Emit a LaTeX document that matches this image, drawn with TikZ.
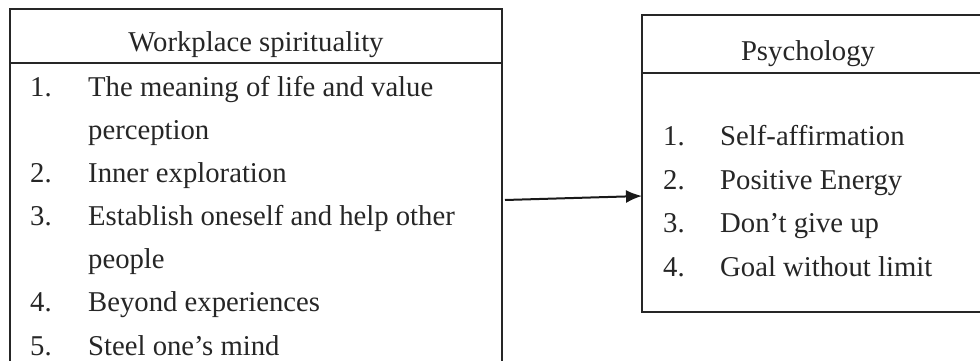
\documentclass[tikz,border=0pt]{standalone}
\usepackage{fontspec}
\setmainfont{Liberation Serif}
\usetikzlibrary{arrows.meta}
\tikzset{panel/.style={draw=black!85, line width=2pt, rectangle, inner sep=0pt, outer sep=0pt, anchor=north west}}
\tikzset{entry/.style={anchor=base west, inner sep=0pt, text=black!85}}
\tikzset{head/.style={anchor=base, inner sep=0pt, text=black!85}}

\begin{document}
\begin{tikzpicture}[x=1pt, y=-1pt, font=\fontsize{28.7}{34}\selectfont]
    \useasboundingbox (0,0) rectangle (980,361);
    \clip (0,0) rectangle (980,361);
    \fill[white] (0,0) rectangle (980,361);

    % left box, runs past the bottom edge
    \node[panel, minimum width=492pt, minimum height=420pt] (spirit) at (10,9) {};
    \draw[draw=black!85, line width=2pt] (10,63) -- (502,63);
    \node[head] (spirithead) at (256,52) {Workplace spirituality};

    \node[entry] (sn1) at (30,96) {1.};
    \node[entry] (st1) at (88,96) {The meaning of life and value};
    \node[entry] (st1b) at (88,139.2) {perception};
    \node[entry] (sn2) at (30,182.3) {2.};
    \node[entry] (st2) at (88,182.3) {Inner exploration};
    \node[entry] (sn3) at (30,225.5) {3.};
    \node[entry] (st3) at (88,225.5) {Establish oneself and help other};
    \node[entry] (st3b) at (88,268.7) {people};
    \node[entry] (sn4) at (30,311.8) {4.};
    \node[entry] (st4) at (88,311.8) {Beyond experiences};
    \node[entry] (sn5) at (30,355) {5.};
    \node[entry] (st5) at (88,355) {Steel one’s mind};

    % right box, runs past the right edge
    \node[panel, minimum width=400pt, minimum height=297pt] (psych) at (642,15) {};
    \draw[draw=black!85, line width=2pt] (642,73) -- (1042,73);
    \node[head] (psychhead) at (808,61) {Psychology};

    \node[entry] (pn1) at (663,145) {1.};
    \node[entry] (pt1) at (720,145) {Self-affirmation};
    \node[entry] (pn2) at (663,189) {2.};
    \node[entry] (pt2) at (720,189) {Positive Energy};
    \node[entry] (pn3) at (663,232.5) {3.};
    \node[entry] (pt3) at (720,232.5) {Don’t give up};
    \node[entry] (pn4) at (663,276) {4.};
    \node[entry] (pt4) at (720,276) {Goal without limit};

    % connector
    \coordinate (from) at ([yshift=-191pt]spirit.north east);
    \coordinate (to) at ([yshift=-181pt]psych.north west);
    \draw[black!90, line width=2pt, -{Latex[length=16pt, width=13pt]}] ([xshift=3pt]from) -- (to);
\end{tikzpicture}
\end{document}
